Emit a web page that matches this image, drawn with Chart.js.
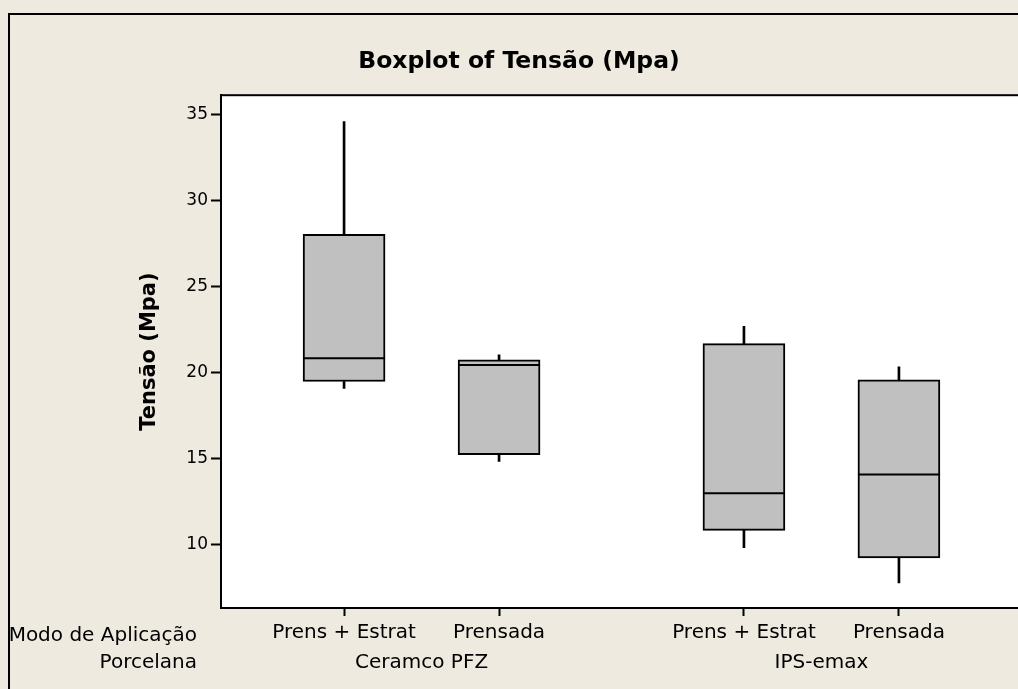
<!DOCTYPE html>
<html>
<head>
<meta charset="utf-8">
<script src="https://cdn.jsdelivr.net/npm/chart.js@4.4.1/dist/chart.umd.min.js"></script>
<style>
  html, body { margin: 0; padding: 0; overflow: hidden; background: #EEEAE0; width: 1018px; height: 689px; }
  canvas { display: block; }
</style>
</head>
<body>
<canvas id="c" width="1040" height="689"></canvas>
<script>
// ---- data ----
const modes = ['Prens + Estrat', 'Prensada', 'Prens + Estrat', 'Prensada'];
const porcelana = ['Ceramco PFZ', 'Ceramco PFZ', 'IPS-emax', 'IPS-emax'];
const whiskerLow = [19.1, 14.85, 9.85, 7.8];
const q1 = [19.5, 15.25, 10.85, 9.25];
const median = [20.85, 20.45, 13.0, 14.1];
const q3 = [28.05, 20.75, 21.7, 19.6];
const whiskerHigh = [34.6, 21.05, 22.7, 20.35];
const yTicks = [10, 15, 20, 25, 30, 35];
const title = 'Boxplot of Tensão (Mpa)';
const yTitle = 'Tensão (Mpa)';
const rowLabels = ['Modo de Aplicação', 'Porcelana'];

// ---- layout of categories along x (group gap) ----
const groupGap = 0.58;
const groupNames = [...new Set(porcelana)];
const xPos = modes.map((m, i) => i + groupNames.indexOf(porcelana[i]) * groupGap);

const FONT = 'DejaVu Sans';
const PADL = 16;

const bgPlugin = {
  id: 'bg',
  beforeDraw(chart) {
    const ctx = chart.ctx, a = chart.chartArea;
    ctx.save();
    ctx.fillStyle = '#EEEAE0';
    ctx.fillRect(0, 0, chart.width, chart.height);
    ctx.strokeStyle = '#000';
    ctx.lineWidth = 2;
    ctx.beginPath();
    ctx.moveTo(9, chart.height + 5);
    ctx.lineTo(9, 14);
    ctx.lineTo(chart.width + 5, 14);
    ctx.stroke();
    ctx.fillStyle = '#FFFFFF';
    ctx.fillRect(a.left, a.top, a.right - a.left, a.bottom - a.top);
    ctx.restore();
  },
  afterDraw(chart) {
    const ctx = chart.ctx, a = chart.chartArea, xs = chart.scales.x;
    ctx.save();
    ctx.strokeStyle = '#000';
    ctx.lineWidth = 2;
    ctx.strokeRect(a.left, a.top, a.right - a.left, a.bottom - a.top);
    ctx.fillStyle = '#000';
    ctx.font = '20px "' + FONT + '"';
    ctx.textBaseline = 'alphabetic';
    const y1 = a.bottom + 33, y2 = a.bottom + 60;
    ctx.textAlign = 'right';
    ctx.fillText(rowLabels[0], 197, y1);
    ctx.fillText(rowLabels[1], 197, y2);
    ctx.textAlign = 'center';
    groupNames.forEach(g => {
      const px = xPos.filter((p, i) => porcelana[i] === g).map(p => xs.getPixelForValue(p));
      const cx = px.reduce((s, v) => s + v, 0) / px.length;
      ctx.fillText(g, cx, y2);
    });
    ctx.restore();
  }
};

new Chart(document.getElementById('c'), {
  data: {
    datasets: [
      {
        type: 'bar', label: 'upper', order: 3, grouped: false,
        data: xPos.map((x, i) => ({ x, y: [q3[i], whiskerHigh[i]] })),
        backgroundColor: '#000', borderWidth: 0, barThickness: 2
      },
      {
        type: 'bar', label: 'lower', order: 3, grouped: false,
        data: xPos.map((x, i) => ({ x, y: [whiskerLow[i], q1[i]] })),
        backgroundColor: '#000', borderWidth: 0, barThickness: 2
      },
      {
        type: 'bar', label: 'box', order: 2, grouped: false,
        data: xPos.map((x, i) => ({ x, y: [q1[i], q3[i]] })),
        backgroundColor: '#C0C0C0', borderColor: '#000', borderWidth: 2,
        borderSkipped: false, barThickness: 82
      },
      {
        type: 'scatter', label: 'median', order: 1,
        data: xPos.map((x, i) => ({ x, y: median[i] })),
        pointStyle: 'line', pointRadius: 41, pointHoverRadius: 41,
        borderColor: '#000', pointBorderWidth: 2, borderWidth: 2
      }
    ]
  },
  options: {
    responsive: false,
    animation: false,
    devicePixelRatio: 1,
    layout: { autoPadding: false, padding: { left: PADL, right: 18, top: 0, bottom: 0 } },
    plugins: {
      legend: { display: false },
      tooltip: { enabled: false },
      title: {
        display: true, text: title, color: '#000',
        font: { family: FONT, size: 23.5, weight: 'bold', lineHeight: 1.2 },
        padding: { top: 48, bottom: 19 }
      }
    },
    scales: {
      x: {
        type: 'linear', min: -0.794, max: 4.374, offset: false,
        afterBuildTicks(s) { s.ticks = xPos.map(v => ({ value: v })); },
        afterFit(s) { s.height = 81; s.paddingLeft = 0; s.paddingRight = 0; },
        ticks: {
          color: '#000', padding: 5, maxRotation: 0, autoSkip: false,
          font: { family: FONT, size: 20 },
          callback(v) { const i = xPos.findIndex(p => Math.abs(p - v) < 1e-6); return i >= 0 ? modes[i] : ''; }
        },
        grid: { display: true, offset: false, drawOnChartArea: false, drawTicks: true, tickLength: 8, tickColor: '#000', tickWidth: 2 },
        border: { display: true, color: '#000', width: 2 }
      },
      y: {
        type: 'linear', min: 6.34, max: 36.13,
        afterBuildTicks(s) { s.ticks = yTicks.map(v => ({ value: v })); },
        afterFit(s) { s.width = 221 - PADL; s.paddingTop = 0; s.paddingBottom = 0; },
        ticks: { color: '#000', padding: 3, font: { family: FONT, size: 17 } },
        grid: { display: true, drawOnChartArea: false, drawTicks: true, tickLength: 10, tickColor: '#000', tickWidth: 2 },
        border: { display: true, color: '#000', width: 2 },
        title: {
          display: true, text: yTitle, color: '#000',
          font: { family: FONT, size: 21, weight: 'bold', lineHeight: 1.2 },
          padding: { top: 121, bottom: 4 }
        }
      }
    }
  },
  plugins: [bgPlugin]
});
</script>
</body>
</html>
